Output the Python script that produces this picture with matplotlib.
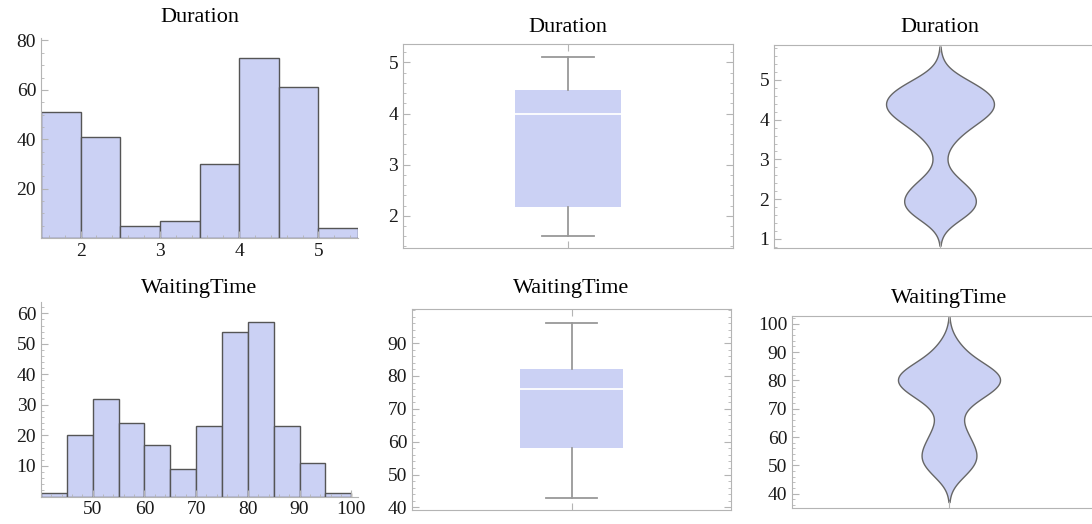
import math
import numpy as np
import matplotlib
matplotlib.use('Agg')
import matplotlib.pyplot as plt
from matplotlib.ticker import MultipleLocator

plt.rcParams['font.family'] = ['Liberation Serif', 'DejaVu Serif']

# histogram bins and counts
dur_edges = [1.5, 2.0, 2.5, 3.0, 3.5, 4.0, 4.5, 5.0, 5.5]
dur_counts = [51, 41, 5, 7, 30, 73, 61, 4]
wait_edges = [40, 45, 50, 55, 60, 65, 70, 75, 80, 85, 90, 95, 100]
wait_counts = [1, 20, 32, 24, 17, 9, 23, 54, 57, 23, 11, 1]

# five-number summaries: min, q1, median, q3, max
dur_box = [1.6, 2.163, 4.0, 4.454, 5.1]
wait_box = [43, 58, 76, 82, 96]

# kernel bandwidths for the violins
dur_bw = 0.3
wait_bw = 3.7

FILL = '#cbd1f4'
EDGE = '#555555'
FRAME = '#b4b4b4'
TXT = '#1a1a1a'

W, H = 1092, 524
fig = plt.figure(figsize=(W / 100, H / 100), dpi=100)


def add_ax(l, t, r, b):
    return fig.add_axes([l / W, 1 - b / H, (r - l) / W, (b - t) / H])


def title(ax, text, gap):
    h = ax.get_position().height * H
    ax.text(0.5, 1 + gap / h, text, transform=ax.transAxes, ha='center',
            va='center', fontsize=16, color='black')


def style_ticks(ax):
    ax.tick_params(which='both', direction='in', colors=FRAME, labelcolor=TXT,
                   labelsize=14)
    ax.tick_params(which='major', length=5, width=0.8)
    ax.tick_params(which='minor', length=2.5, width=0.6)


def hist_panel(ax, edges, counts, xlim, ylim, xticks, yticks, xminor, yminor):
    ax.hist(edges[:-1], bins=edges, weights=counts, color=FILL,
            edgecolor=EDGE, linewidth=1)
    ax.set_xlim(*xlim)
    ax.set_ylim(*ylim)
    for s in ['top', 'right']:
        ax.spines[s].set_visible(False)
    for s in ['left', 'bottom']:
        ax.spines[s].set_color(FRAME)
    ax.set_xticks(xticks)
    ax.set_yticks(yticks)
    ax.xaxis.set_minor_locator(MultipleLocator(xminor))
    ax.yaxis.set_minor_locator(MultipleLocator(yminor))
    style_ticks(ax)


def frame_panel(ax, ylim, yticks, yminor):
    ax.set_xlim(-1, 1)
    ax.set_ylim(*ylim)
    for s in ax.spines.values():
        s.set_color(FRAME)
    ax.set_xticks([0])
    ax.set_xticklabels([])
    ax.set_yticks(yticks)
    ax.yaxis.set_minor_locator(MultipleLocator(yminor))
    ax.tick_params(top=True, right=True, which='both')
    style_ticks(ax)


def box_panel(ax, b):
    stats = [dict(whislo=b[0], q1=b[1], med=b[2], q3=b[3], whishi=b[4],
                  fliers=[])]
    ax.bxp(stats, positions=[0], widths=0.64, patch_artist=True,
           showfliers=False, manage_ticks=False,
           boxprops=dict(facecolor=FILL, edgecolor='none'),
           medianprops=dict(color='white', linewidth=1.3),
           whiskerprops=dict(color='#999999', linewidth=1.3),
           capprops=dict(color='#999999', linewidth=1.3))


def density(edges, counts, bw, y):
    e = np.asarray(edges, float)
    c = np.asarray(counts, float)
    cdf = np.vectorize(lambda z: 0.5 * (1 + math.erf(z / math.sqrt(2))))
    d = np.zeros_like(y)
    for a, b, k in zip(e[:-1], e[1:], c):
        d += k * (cdf((y - a) / bw) - cdf((y - b) / bw)) / (b - a)
    return d / c.sum()


def violin_panel(ax, edges, counts, bw):
    y = np.linspace(edges[0] - 4 * bw, edges[-1] + 4 * bw, 800)
    d = density(edges, counts, bw, y)
    keep = d >= 0.01 * d.max()
    y, d = y[keep], d[keep]
    w = 0.325 * d / d.max()
    ax.fill_betweenx(y, -w, w, facecolor=FILL, edgecolor='#666666',
                     linewidth=1)


# histograms
ax = add_ax(41, 38, 358, 238)
hist_panel(ax, dur_edges, dur_counts, (1.5, 5.5), (0, 81), [2, 3, 4, 5],
           [20, 40, 60, 80], 0.2, 5)
title(ax, 'Duration', 20)

ax = add_ax(41, 302, 358, 496.5)
hist_panel(ax, wait_edges, wait_counts, (40, 101.3), (0, 63.7),
           [50, 60, 70, 80, 90, 100], [10, 20, 30, 40, 50, 60], 2, 2)
title(ax, 'WaitingTime', 14)

# box plots
ax = add_ax(403, 44, 733, 248)
frame_panel(ax, (1.37, 5.36), [2, 3, 4, 5], 0.2)
box_panel(ax, dur_box)
title(ax, 'Duration', 17)

ax = add_ax(412, 309, 731, 510)
frame_panel(ax, (39.2, 100.4), [40, 50, 60, 70, 80, 90], 2)
box_panel(ax, wait_box)
title(ax, 'WaitingTime', 21)

# violins
ax = add_ax(774, 45, 1106, 248)
frame_panel(ax, (0.77, 5.88), [1, 2, 3, 4, 5], 0.2)
violin_panel(ax, dur_edges, dur_counts, dur_bw)
title(ax, 'Duration', 17)

ax = add_ax(792, 316, 1106, 508)
frame_panel(ax, (35, 102.7), [40, 50, 60, 70, 80, 90, 100], 2)
violin_panel(ax, wait_edges, wait_counts, wait_bw)
title(ax, 'WaitingTime', 18)

fig.savefig('out.png', dpi=100)
